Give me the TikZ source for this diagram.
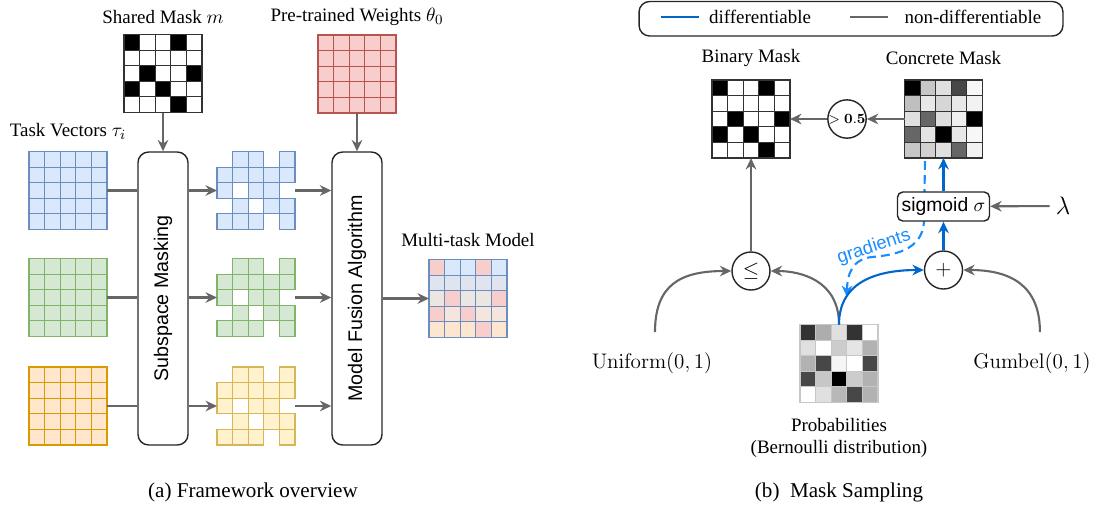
\documentclass[tikz,border=0pt]{standalone}
\usepackage{amsmath,amssymb}
\usepackage[no-math]{fontspec}
\setmainfont{Liberation Serif}
\newfontfamily\helv{Liberation Sans}
\usepackage{tikz}
\usetikzlibrary{arrows.meta,calc}

\definecolor{blueF}{HTML}{DAE8FC}
\definecolor{blueD}{HTML}{6C8EBF}
\definecolor{greenF}{HTML}{D5E8D4}
\definecolor{greenD}{HTML}{82B366}
\definecolor{orangeF}{HTML}{FFE6CC}
\definecolor{orangeD}{HTML}{D79B00}
\definecolor{yellowF}{HTML}{FFF2CC}
\definecolor{yellowD}{HTML}{D6B656}
\definecolor{redF}{HTML}{F8CECC}
\definecolor{redD}{HTML}{B85450}
\definecolor{mixA}{HTML}{DFE4EE}
\definecolor{mixB}{HTML}{ECE6E3}
\definecolor{mixC}{HTML}{F4E6DC}
\definecolor{mixD}{HTML}{FCE6D0}
\definecolor{lineGray}{HTML}{666666}
\definecolor{diffBlue}{HTML}{0066CC}
\definecolor{gradBlue}{HTML}{1A8CFF}

\newcommand{\lblfont}{\fontsize{10.8}{12.5}\selectfont}
\newcommand{\blkfont}{\helv\fontsize{11.2}{13}\selectfont}

% 5x5 cells inside a grid node, rows from top to bottom, "none" = no cell
\def\nocell{none}
\newcommand{\cellgrid}[3]{%
  \foreach \cellrow [count=\gi from 0] in {#3}
    \foreach \cellfill [count=\gj from 0] in \cellrow {
      \ifx\cellfill\nocell\else
        \path[fill=\cellfill,draw=#2,line width=0.6pt]
          ($(#1.north west)+(\gj*15.6,\gi*15.6)$) rectangle ++(15.6,15.6);
      \fi
    }%
}

\begin{document}
\begin{tikzpicture}[x=0.02cm,y=-0.02cm,>={Stealth[length=6.5pt,width=6pt]}]
  \tikzstyle{gridbox}=[minimum size=1.56cm,inner sep=0pt,outer sep=0pt]
  \tikzstyle{heading}=[font=\lblfont,inner sep=1pt]
  \tikzstyle{captext}=[font=\fontsize{12}{14}\selectfont]
  \tikzstyle{block}=[draw=black!85,line width=0.8pt,rounded corners=6pt,
                     minimum width=1cm,minimum height=5.86cm,inner sep=0pt,font=\blkfont]
  \tikzstyle{op}=[draw=black!85,line width=0.8pt,circle,minimum size=0.76cm,inner sep=0pt]
  \tikzstyle{distlabel}=[font=\fontsize{13}{15}\selectfont]
  \tikzstyle{graypath}=[->,draw=lineGray,line width=1.2pt]
  \tikzstyle{bluepath}=[->,draw=diffBlue,line width=1.2pt]
  \tikzstyle{gradpath}=[->,draw=gradBlue,line width=1.2pt,dash pattern=on 5pt off 3pt]

  \useasboundingbox (0,0) rectangle (1119,505);

  % (a) framework overview
  \node[heading]  (masklbl)  at (163,17)    {Shared Mask $m$};
  \node[gridbox]  (mask)     at (163,73.5)  {};
  \node[heading]  (prelbl)   at (357,17)    {Pre-trained Weights $\theta_0$};
  \node[gridbox]  (pre)      at (357,74)    {};
  \node[heading]  (tasklbl)  at (68,131)    {Task Vectors $\tau_i$};
  \node[gridbox]  (blue)     at (68,190.5)  {};
  \node[gridbox]  (green)    at (68,297.5)  {};
  \node[gridbox]  (orange)   at (68,406)    {};
  \node[block]    (sub)      at (163,298.5) {\rotatebox{90}{Subspace Masking}};
  \node[gridbox]  (mblue)    at (256,190.5) {};
  \node[gridbox]  (mgreen)   at (256,297.5) {};
  \node[gridbox]  (myellow)  at (256,406)   {};
  \node[block]    (fus)      at (357,298.5) {\rotatebox{90}{Model Fusion Algorithm}};
  \node[heading]  (multilbl) at (468,240)   {Multi-task Model};
  \node[gridbox]  (multi)    at (468,298.5) {};
  \node[captext]  (capa)     at (253,492)   {(a) Framework overview};

  \cellgrid{mask}{black!80}{{black,white,white,black,white},{white,white,white,white,white},
    {white,black,white,white,black},{black,white,black,white,white},{white,white,white,black,white}}
  \cellgrid{pre}{redD}{{redF,redF,redF,redF,redF},{redF,redF,redF,redF,redF},
    {redF,redF,redF,redF,redF},{redF,redF,redF,redF,redF},{redF,redF,redF,redF,redF}}
  \cellgrid{blue}{blueD}{{blueF,blueF,blueF,blueF,blueF},{blueF,blueF,blueF,blueF,blueF},
    {blueF,blueF,blueF,blueF,blueF},{blueF,blueF,blueF,blueF,blueF},{blueF,blueF,blueF,blueF,blueF}}
  \cellgrid{green}{greenD}{{greenF,greenF,greenF,greenF,greenF},{greenF,greenF,greenF,greenF,greenF},
    {greenF,greenF,greenF,greenF,greenF},{greenF,greenF,greenF,greenF,greenF},{greenF,greenF,greenF,greenF,greenF}}
  \cellgrid{orange}{orangeD}{{orangeF,orangeF,orangeF,orangeF,orangeF},{orangeF,orangeF,orangeF,orangeF,orangeF},
    {orangeF,orangeF,orangeF,orangeF,orangeF},{orangeF,orangeF,orangeF,orangeF,orangeF},{orangeF,orangeF,orangeF,orangeF,orangeF}}
  \cellgrid{mblue}{blueD}{{none,blueF,blueF,none,blueF},{blueF,blueF,blueF,blueF,blueF},
    {blueF,none,blueF,blueF,none},{none,blueF,none,blueF,blueF},{blueF,blueF,blueF,none,blueF}}
  \cellgrid{mgreen}{greenD}{{none,greenF,greenF,none,greenF},{greenF,greenF,greenF,greenF,greenF},
    {greenF,none,greenF,greenF,none},{none,greenF,none,greenF,greenF},{greenF,greenF,greenF,none,greenF}}
  \cellgrid{myellow}{yellowD}{{none,yellowF,yellowF,none,yellowF},{yellowF,yellowF,yellowF,yellowF,yellowF},
    {yellowF,none,yellowF,yellowF,none},{none,yellowF,none,yellowF,yellowF},{yellowF,yellowF,yellowF,none,yellowF}}
  \cellgrid{multi}{blueD}{{redF,blueF,blueF,redF,blueF},{mixA,mixA,mixA,mixA,mixA},
    {mixB,redF,mixB,mixB,redF},{redF,mixC,redF,mixC,mixC},{mixD,mixD,mixD,redF,mixD}}

  \path[graypath] (mask) edge (sub)
                  (pre)  edge (fus)
                  (fus)  edge (multi);
  \foreach \g/\m in {blue/mblue,green/mgreen,orange/myellow} {
    \draw[graypath,-] (\g) -- (\g -| sub.west);
    \draw[graypath] (sub.east |- \m) -- (\m);
    \draw[graypath] (\m) -- (\m -| fus.west);
  }

  % (b) mask sampling
  \node[draw=black!85,line width=0.8pt,rounded corners=6pt,minimum width=8.48cm,
        minimum height=0.69cm] (legend) at (851,18.75) {};
  \draw[diffBlue,line width=1.2pt] (661,17) -- (699,17);
  \node[heading]  (difflbl)    at (760,17)  {differentiable};
  \draw[lineGray,line width=1.2pt] (850,17) -- (888,17);
  \node[heading]  (nondifflbl) at (973,17)  {non-differentiable};

  \node[heading]  (binlbl)   at (751,58)    {Binary Mask};
  \node[gridbox]  (binary)   at (751,119)   {};
  \node[heading]  (conlbl)   at (943.5,58)  {Concrete Mask};
  \node[gridbox]  (concrete) at (943.5,119) {};
  \node[op,font=\footnotesize] (gt) at (847,119) {$>\mathbf{0.5}$};
  \node[op,font=\large] (le)   at (751,271)   {$\leq$};
  \node[op,font=\large] (plus) at (943.5,270) {$+$};
  \node[gridbox]  (prob)     at (839,363.5) {};
  \node[heading,align=center] (problbl) at (839,438) {Probabilities\\(Bernoulli distribution)};
  \node[distlabel] (unif)    at (652,363)   {$\mathrm{Uniform}(0,1)$};
  \node[distlabel] (gum)     at (1032,363)  {$\mathrm{Gumbel}(0,1)$};
  \node[font=\fontsize{14}{16}\selectfont] (lam) at (1063,206) {$\lambda$};
  \node[captext]  (capb)     at (839,492)   {(b)\ \ Mask Sampling};

  \cellgrid{binary}{black!80}{{black,white,white,black,white},{white,white,white,white,white},
    {white,black,white,white,black},{black,white,black,white,white},{white,white,white,black,white}}
  \cellgrid{concrete}{black!80}{{black,black!22,black!12,black!72,black!3},{black!25,black!9,black!16,black!9,black!5},
    {black!12,black!60,black!13,black!6,black},{black!60,black!11,black,black!9,black!3},{black!22,black!18,black!12,black!60,black!5}}
  \cellgrid{prob}{black!22}{{black!80,black!32,black!12,black!80,white},{black!12,white,black!20,black!10,black!30},
    {black!30,black!72,black!4,white,black!72},{black!72,black!22,black,black!20,black!30},{white,black!12,black!28,black!72,black!30}}

  % gradients go back through the sigmoid, drawn first so the box covers them
  \coordinate (gtop) at (925,161);
  \coordinate (gend) at (847,297);
  \draw[gradpath] (gtop) -- (924,222) .. controls (922,250) and (895,255) .. (872,257)
                  .. controls (852,259) and (847,275) .. (gend);
  \node[font=\helv\fontsize{10.5}{12}\selectfont,text=gradBlue,rotate=18] (gradlbl) at (874,247) {gradients};
  \node[draw=black!85,fill=white,line width=0.8pt,rounded corners=3pt,minimum width=1.84cm,
        minimum height=0.58cm,inner sep=1pt,font=\helv\fontsize{11}{13}\selectfont] (sig) at (943.5,206.5) {sigmoid $\sigma$};

  \path[graypath] (concrete) edge (gt)
                  (gt)       edge (binary)
                  (le)       edge (binary)
                  (lam)      edge (sig);
  \path[bluepath] (plus) edge (sig)
                  (sig)  edge (concrete);

  \draw[graypath,shorten <=8pt] ([xshift=1.7pt]unif.north) .. controls (655,285) and (680,271) .. (le.west);
  \draw[graypath] (prob.north) .. controls (839,280) and (800,271) .. (le.east);
  \draw[bluepath] (prob.north) .. controls (839,280) and (880,270) .. (plus.west);
  \draw[graypath,shorten <=8pt] ([xshift=4.5pt]gum.north) .. controls (1040,285) and (1010,270) .. (plus.east);
\end{tikzpicture}
\end{document}
